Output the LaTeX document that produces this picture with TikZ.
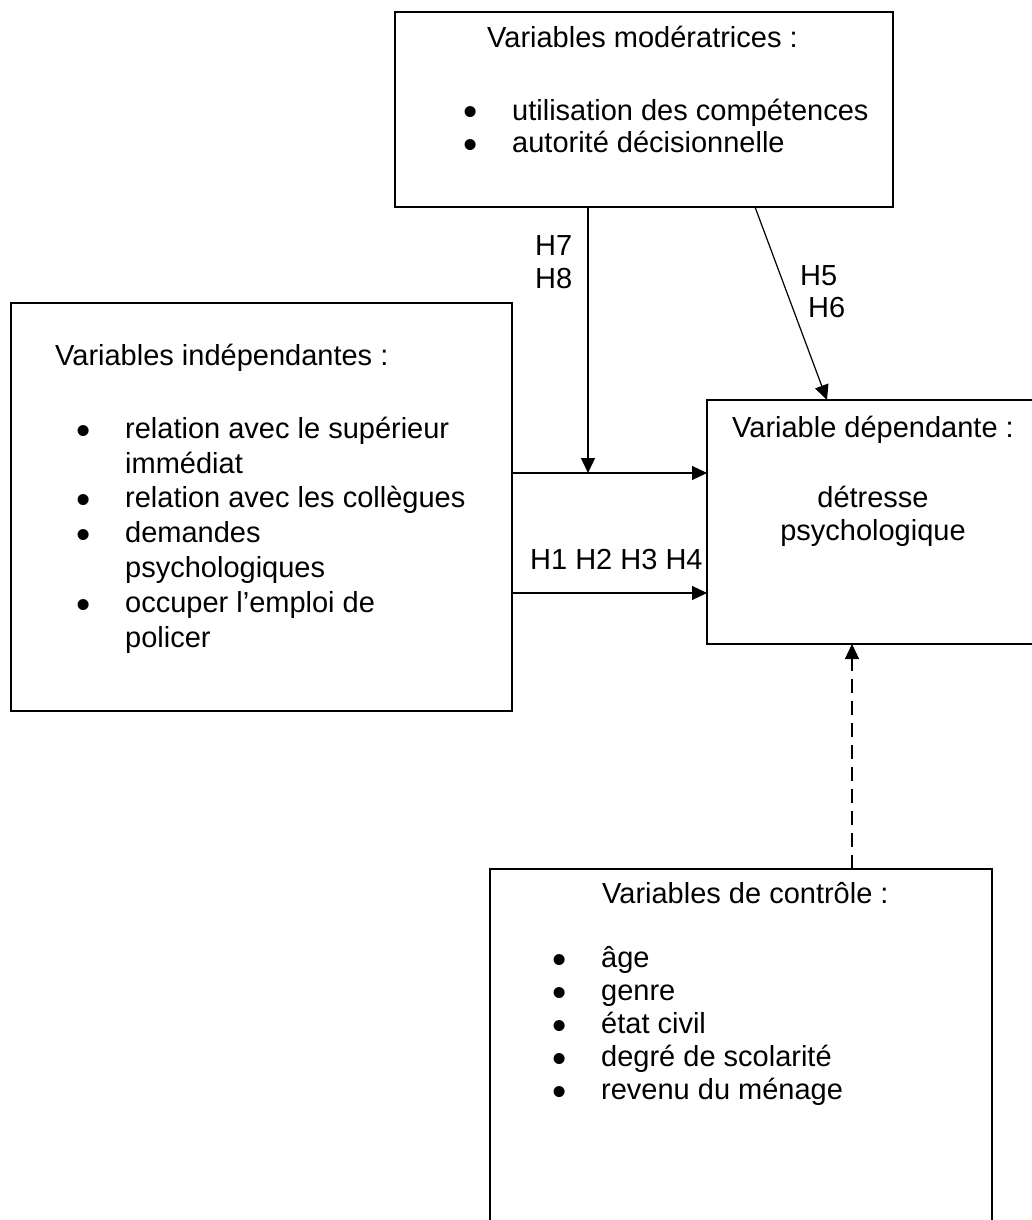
\documentclass[tikz,border=0pt]{standalone}
\usepackage{fontspec}
\usepackage{graphicx}
\setmainfont{Liberation Sans}
\usetikzlibrary{arrows.meta}
\newcommand{\puce}{\llap{\raisebox{-6pt}{\scalebox{1.4}{\textbullet}}\hspace{34pt}}}
\tikzset{
  varbox/.style={draw, line width=1.4pt, anchor=north west, inner sep=0pt, outer sep=0pt},
  fleche/.style={line width=1.2pt, -{Triangle[length=15pt,width=14pt]}},
  lbl/.style={anchor=base west, inner sep=0pt, align=left, font=\fontsize{29}{#1}\selectfont},
  lbl/.default=33
}
\begin{document}
\begin{tikzpicture}[x=1pt,y=-1pt]
\useasboundingbox (0,0) rectangle (1031,1220);

% boxes
\node[varbox, minimum width=498pt, minimum height=195pt] (mod) at (395,12) {};
\node[varbox, minimum width=501pt, minimum height=408pt] (indep) at (11,303) {};
\node[varbox, minimum width=333pt, minimum height=244pt] (dep) at (707,400) {};
\node[varbox, minimum width=502pt, minimum height=360pt] (ctrl) at (490,869) {};

% texts (multi-line nodes sit on their last baseline)
\node[lbl] (modtitle) at (487,48) {Variables modératrices :};
\node[lbl=32] (modlist) at (512,152) {\puce utilisation des compétences\\ \puce autorité décisionnelle};

\node[lbl] (indtitle) at (55,365) {Variables indépendantes :};
\node[lbl=34.8] (indlist) at (125,647) {\puce relation avec le supérieur\\ immédiat\\
  \puce relation avec les collègues\\ \puce demandes\\ psychologiques\\
  \puce occuper l’emploi de\\ policer};

\node[lbl, anchor=base] (deptitle) at (873,437) {Variable dépendante :};
\node[lbl, anchor=base, align=center] (deplist) at (873,540) {détresse\\ psychologique};

\node[lbl] (ctrltitle) at (602,903) {Variables de contrôle :};
\node[lbl] (ctrllist) at (601,1099) {\puce âge\\ \puce genre\\ \puce état civil\\
  \puce degré de scolarité\\ \puce revenu du ménage};

% arrows
\coordinate (hub) at (588,473);
\coordinate (low) at (600,593);
\draw[fleche] (mod.south -| hub) -- (hub);
\draw[fleche] (indep.east |- hub) -- (dep.west |- hub);
\draw[fleche] (indep.east |- low) -- (dep.west |- low);
\coordinate (diagA) at (755,207);
\coordinate (diagB) at (827,400);
\draw[fleche] (mod.south -| diagA) -- (dep.north -| diagB);
\coordinate (dash) at (852,700);
\draw[fleche, dash pattern=on 14pt off 8pt] (ctrl.north -| dash) -- (dep.south -| dash);

% hypotheses
\node[lbl] (h78) at (535,288) {H7\\ H8};
\node[lbl=32] (h56) at (800,317) {H5\\ \hspace*{8pt}H6};
\node[lbl] (h14) at (530,569) {H1 H2 H3 H4};
\end{tikzpicture}
\end{document}
